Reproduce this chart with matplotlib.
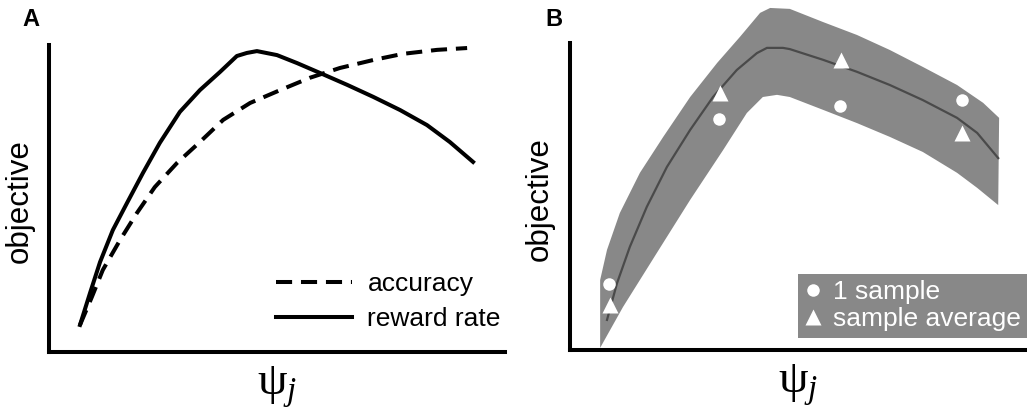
import matplotlib
matplotlib.use("Agg")
import matplotlib.pyplot as plt
from matplotlib.lines import Line2D

plt.rcParams['font.family'] = ['Liberation Sans', 'DejaVu Sans']
plt.rcParams['mathtext.fontset'] = 'custom'
plt.rcParams['mathtext.rm'] = 'Liberation Serif'
plt.rcParams['mathtext.it'] = 'Liberation Serif:italic'

# panel A: accuracy vs reward rate as a function of psi_j
acc_x = [6.8, 9.4, 11.8, 15.6, 19.3, 23.2, 28.1, 33.1, 38.2, 44.1, 50.7, 57.2, 63.8, 71.1, 77.6, 85.1, 91.7]
acc_y = [8.8, 17.9, 26.7, 36.5, 45.3, 53.7, 61.6, 68.4, 75.6, 81.1, 85.3, 89.3, 92.5, 95.1, 97.1, 98.4, 99.0]
rr_x = [6.8, 9.0, 11.2, 14.0, 17.1, 20.6, 24.3, 28.7, 33.1, 37.5, 41.2, 43.4, 45.6, 50.0, 54.4,
        59.4, 65.4, 71.1, 77.0, 82.9, 87.9, 93.0]
rr_y = [8.8, 19.2, 29.3, 39.7, 48.5, 58.3, 68.1, 78.2, 85.3, 91.2, 96.4, 97.4, 98.0, 96.7, 94.1,
        90.9, 87.0, 83.1, 78.8, 73.9, 68.4, 61.9]

# panel B: estimated objective with its spread, plus sampled points
est_x = [8.1, 10.3, 13.1, 16.8, 21.2, 26.3, 31.3, 36.5, 40.9, 43.1, 46.6, 48.1, 55.4, 62.8,
         70.0, 77.2, 84.7, 89.1, 93.7]
est_y = [9.8, 21.8, 33.6, 46.6, 59.6, 71.7, 82.4, 91.2, 96.7, 98.4, 98.4, 98.0, 94.5, 90.6,
         86.3, 81.4, 75.6, 70.7, 62.5]
hi_x = [6.6, 8.1, 10.9, 15.3, 20.4, 26.3, 32.2, 37.2, 41.6, 43.8, 48.1, 55.4, 62.8, 70.0,
        77.2, 84.7, 90.4, 93.9]
hi_y = [22.8, 32.6, 44.6, 57.7, 69.4, 82.4, 93.5, 102.0, 109.8, 111.4, 111.1, 106.8, 102.6,
        97.7, 92.2, 86.3, 80.5, 75.6]
lo_x = [6.6, 11.6, 19.0, 26.3, 33.5, 38.7, 42.2, 45.3, 48.1, 55.4, 62.8, 70.0, 77.2, 84.7,
        89.1, 93.7]
lo_y = [0.7, 14.0, 31.6, 48.9, 65.1, 77.2, 82.4, 83.1, 82.4, 78.2, 73.9, 69.4, 64.5, 57.7,
        52.8, 47.2]
one_x = [8.5, 32.6, 59.1, 85.8]
one_y = [21.5, 75.2, 79.5, 81.4]
avg_x = [8.8, 32.8, 59.3, 85.8]
avg_y = [14.7, 83.7, 94.5, 70.7]

band_col = '#888888'
spine_w = 2.9

fig = plt.figure(figsize=(10.27, 4.08), dpi=100)
axA = fig.add_axes([0.0477, 0.1373, 0.444, 0.7525])
axB = fig.add_axes([0.555, 0.1422, 0.445, 0.7525])

for ax in (axA, axB):
    ax.set_xlim(0, 100)
    ax.set_ylim(0, 100)
    ax.set_xticks([])
    ax.set_yticks([])
    for s in ('top', 'right'):
        ax.spines[s].set_visible(False)
    for s in ('left', 'bottom'):
        ax.spines[s].set_linewidth(spine_w)
        ax.spines[s].set_capstyle('projecting')
    ax.set_ylabel('objective', fontsize=22.5)
    ax.set_xlabel(r'$\mathrm{\psi}_j$', fontsize=34, va='top')
    ax.xaxis.set_label_coords(0.5, -0.04)

axA.yaxis.set_label_coords(-0.031, 0.49)
axB.yaxis.set_label_coords(-0.033, 0.49)

axA.plot(acc_x, acc_y, color='black', lw=2.9, ls=(0, (4, 2.2)), label='accuracy')
axA.plot(rr_x, rr_y, color='black', lw=2.9, label='reward rate')
axA.legend(loc='lower right', bbox_to_anchor=(1.043, -0.009), frameon=False,
           fontsize=19, handlelength=2.85, handletextpad=0.6, labelspacing=0.41)

axB.fill(hi_x + lo_x[::-1], hi_y + lo_y[::-1], color=band_col, lw=0, clip_on=False)
axB.plot(est_x, est_y, color='#4a4a4a', lw=1.6)
axB.plot(one_x, one_y, 'o', color='white', ms=9, mec='none', clip_on=False)
axB.plot(avg_x, avg_y, '^', color='white', ms=11, mec='none', clip_on=False)

handles = [Line2D([], [], ls='none', marker='o', color='white', mec='none', ms=9),
           Line2D([], [], ls='none', marker='^', color='white', mec='none', ms=11)]
axB.legend(handles, ['1 sample', 'sample average'], loc='lower right',
           bbox_to_anchor=(1.0, 0.04), fontsize=19, frameon=True, fancybox=False,
           facecolor=band_col, edgecolor='none', framealpha=1,
           handlelength=0.6, handletextpad=0.45, labelspacing=0.1,
           borderpad=0.25, borderaxespad=0.0, labelcolor='white')

fig.text(22 / 1027, 1 - 20 / 408, 'A', fontsize=17, fontweight='bold', va='center')
fig.text(545 / 1027, 1 - 20 / 408, 'B', fontsize=17, fontweight='bold', va='center')

fig.savefig('out.png', dpi=100)
